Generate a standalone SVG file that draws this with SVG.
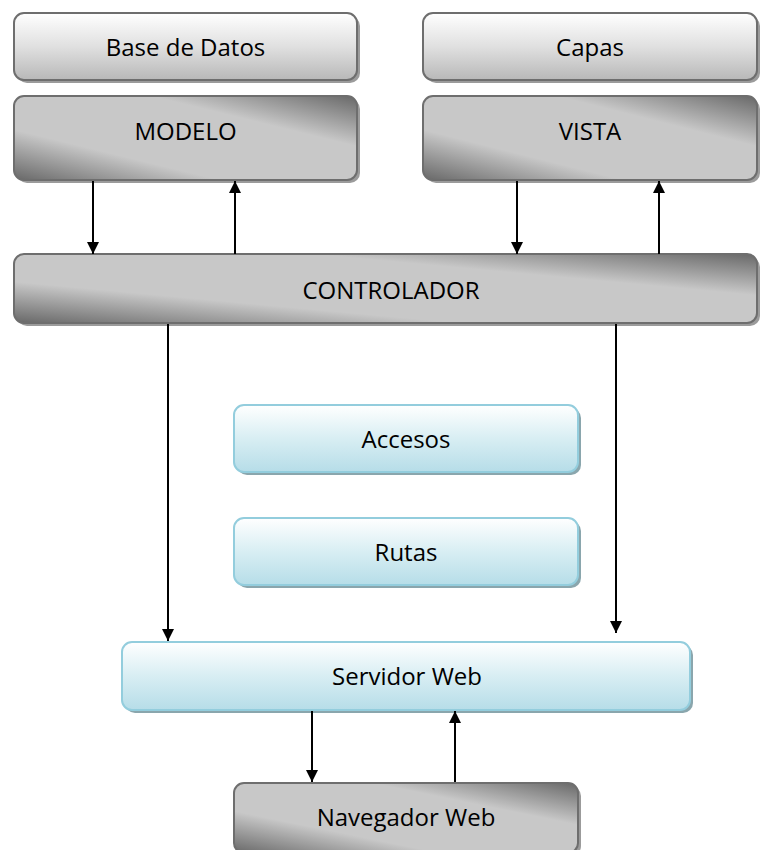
<svg xmlns="http://www.w3.org/2000/svg" width="760" height="850" viewBox="0 0 760 850">
  <defs>
    <linearGradient id="gLight" x1="0" y1="0" x2="0" y2="1">
      <stop offset="0" stop-color="#ffffff"/>
      <stop offset="0.5" stop-color="#e0e0e0"/>
      <stop offset="1" stop-color="#b8b8b8"/>
    </linearGradient>
    <linearGradient id="gDark" x1="0" y1="1" x2="1" y2="0">
      <stop offset="0" stop-color="#686868"/>
      <stop offset="0.3" stop-color="#c8c8c8"/>
      <stop offset="0.7" stop-color="#c8c8c8"/>
      <stop offset="1" stop-color="#686868"/>
    </linearGradient>
    <linearGradient id="gBlue" x1="0" y1="0" x2="0" y2="1">
      <stop offset="0" stop-color="#ffffff"/>
      <stop offset="0.5" stop-color="#d8eef3"/>
      <stop offset="1" stop-color="#b6dde8"/>
    </linearGradient>
    <marker id="arrow" viewBox="0 0 12 12" refX="12" refY="6" markerWidth="12" markerHeight="12" markerUnits="userSpaceOnUse" orient="auto">
      <path d="M0,0 L12,6 L0,12 Z" fill="#000"/>
    </marker>
  </defs>
  <style>
    .shadow { fill: #9b9b9b; }
    .shadowB { fill: #8aa6ad; }
    .light { fill: url(#gLight); stroke: #6e6e6e; stroke-width: 2; }
    .dark { fill: url(#gDark); stroke: #6e6e6e; stroke-width: 2; }
    .blue { fill: url(#gBlue); stroke: #93cddd; stroke-width: 2; }
    .label { font-family: "Open Sans", "Liberation Sans", sans-serif; font-size: 24px; fill: #000; text-anchor: middle; dominant-baseline: central; }
    .conn line { stroke: #000; stroke-width: 2; marker-end: url(#arrow); }
  </style>
  <rect width="760" height="850" fill="#ffffff"/>

  <g id="base-de-datos">
    <rect class="shadow" x="17" y="16" width="343" height="67" rx="10"/>
    <rect class="light" x="14" y="13" width="343" height="67" rx="10"/>
    <text class="label" x="185.5" y="46">Base de Datos</text>
  </g>
  <g id="capas">
    <rect class="shadow" x="426" y="16" width="334" height="67" rx="10"/>
    <rect class="light" x="423" y="13" width="334" height="67" rx="10"/>
    <text class="label" x="590" y="46">Capas</text>
  </g>
  <g id="modelo">
    <rect class="shadow" x="17" y="99" width="343" height="84" rx="10"/>
    <rect class="dark" x="14" y="96" width="343" height="84" rx="10"/>
    <text class="label" x="185.5" y="130">MODELO</text>
  </g>
  <g id="vista">
    <rect class="shadow" x="426" y="99" width="334" height="84" rx="10"/>
    <rect class="dark" x="423" y="96" width="334" height="84" rx="10"/>
    <text class="label" x="590" y="130">VISTA</text>
  </g>
  <g id="controlador">
    <rect class="shadow" x="17" y="257" width="743" height="69" rx="10"/>
    <rect class="dark" x="14" y="254" width="743" height="69" rx="10"/>
    <text class="label" x="391" y="289">CONTROLADOR</text>
  </g>
  <g id="accesos">
    <rect class="shadowB" x="237" y="408" width="344" height="67" rx="10"/>
    <rect class="blue" x="234" y="405" width="344" height="67" rx="10"/>
    <text class="label" x="406" y="438">Accesos</text>
  </g>
  <g id="rutas">
    <rect class="shadowB" x="237" y="521" width="344" height="67" rx="10"/>
    <rect class="blue" x="234" y="518" width="344" height="67" rx="10"/>
    <text class="label" x="406" y="551">Rutas</text>
  </g>
  <g id="servidor-web">
    <rect class="shadowB" x="125" y="645" width="568" height="68" rx="10"/>
    <rect class="blue" x="122" y="642" width="568" height="68" rx="10"/>
    <text class="label" x="407" y="675">Servidor Web</text>
  </g>
  <g id="navegador-web">
    <rect class="shadow" x="237" y="786" width="344" height="70" rx="10"/>
    <rect class="dark" x="234" y="783" width="344" height="70" rx="10"/>
    <text class="label" x="406" y="816">Navegador Web</text>
  </g>

  <g id="connectors" class="conn">
    <line x1="93" y1="181" x2="93" y2="254"/>
    <line x1="235" y1="254" x2="235" y2="181"/>
    <line x1="517" y1="181" x2="517" y2="254"/>
    <line x1="659" y1="254" x2="659" y2="181"/>
    <line x1="168" y1="324" x2="168" y2="641"/>
    <line x1="616" y1="324" x2="616" y2="633"/>
    <line x1="312" y1="711" x2="312" y2="782"/>
    <line x1="455" y1="782" x2="455" y2="711"/>
  </g>
</svg>
